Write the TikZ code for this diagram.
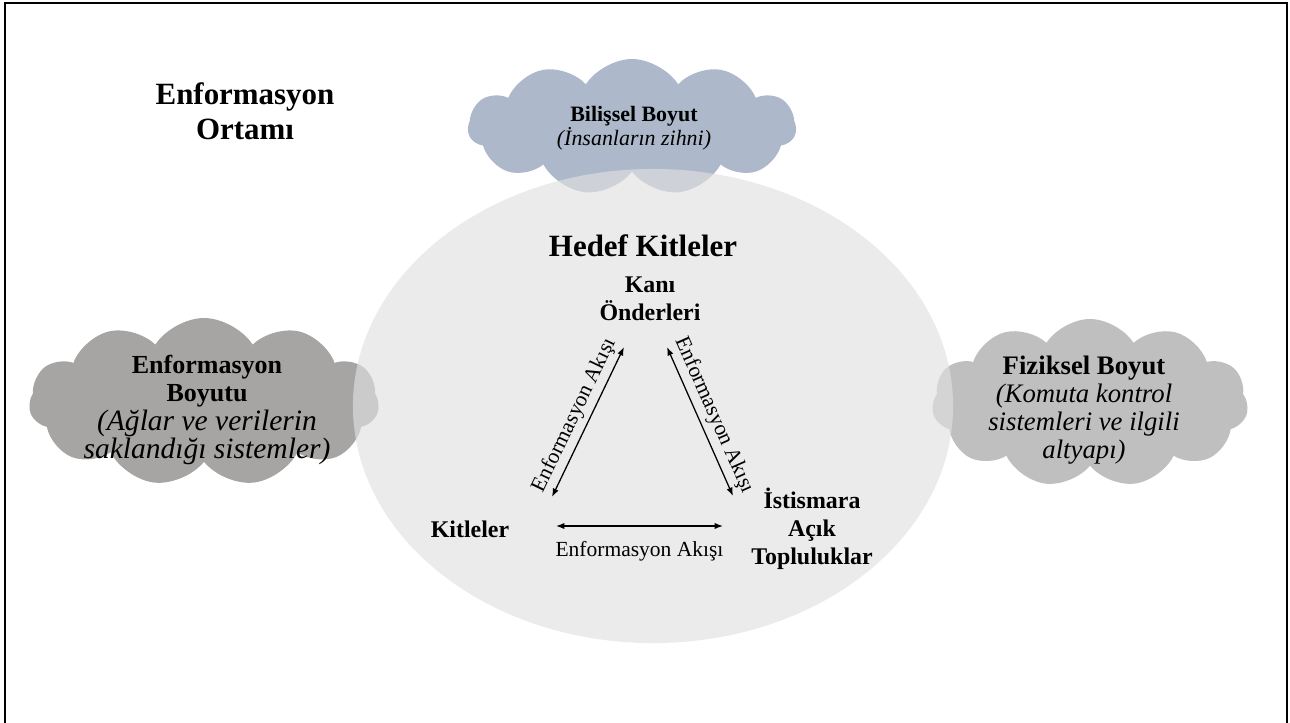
\documentclass[tikz,border=0pt]{standalone}
\usepackage{fontspec}
\setmainfont{Liberation Serif}
\usetikzlibrary{shapes.symbols, shapes.geometric, arrows.meta, positioning}

\definecolor{mindblue}{HTML}{ADB9CA}
\definecolor{netgray}{HTML}{A7A4A4}
\definecolor{physgray}{HTML}{BFBFBF}
\definecolor{audgray}{HTML}{E0E0E0}

\tikzstyle{dimension}=[
cloud,
cloud puffs=11,
cloud puff arc=115,
cloud ignores aspect,
inner sep=0pt,
]
\tikzstyle{dimtext}=[align=center, inner sep=0pt]
\tikzstyle{group}=[align=center, inner sep=0pt, font=\bfseries\fontsize{17}{20}\selectfont]
\tikzstyle{flowlabel}=[font=\fontsize{15.3}{18}\selectfont]

\begin{document}
\begin{tikzpicture}
        [x=0.025cm, y=-0.025cm, >={Latex[length=6pt,width=4.5pt]}]
        \useasboundingbox (0,0) rectangle (1290,723);
        \draw[line width=1.8pt] (5,723) -- (5,3) -- (1287,3) -- (1287,723);

        % the three dimensions
        \node[dimension, fill=mindblue, minimum width=8.2cm, minimum height=3.4cm] (bilissel) at (632,127) {};
        \node[dimension, fill=netgray, minimum width=8.75cm, minimum height=4.2cm] (enfboyut) at (204,402) {};
        \node[dimension, fill=physgray, minimum width=7.9cm, minimum height=4.2cm] (fiziksel) at (1090,403) {};

        % target audiences
        \node[ellipse, fill=audgray, fill opacity=0.65, minimum width=15cm, minimum height=11.85cm] (hedef) at (653,406) {};

        \node[dimtext, font=\bfseries\fontsize{22}{25}\selectfont] (ortam) at (245,111) {Enformasyon\\Ortamı};

        \begin{scope}[every node/.style=dimtext]
          \node[font=\fontsize{15.6}{15.6}\selectfont] (bilisseltext) at (634,128)
            {\textbf{Bilişsel Boyut}\\\textit{(İnsanların zihni)}};
          \node[font=\fontsize{18.5}{20}\selectfont] (enfboyuttext) at (207,410)
            {\textbf{Enformasyon}\\\textbf{Boyutu}\\{\fontsize{21}{20}\selectfont\itshape (Ağlar ve verilerin}\\{\fontsize{21}{20}\selectfont\itshape saklandığı sistemler)}};
          \node[font=\fontsize{19}{20}\selectfont] (fizikseltext) at (1084,410)
            {\textbf{Fiziksel Boyut}\\\textit{(Komuta kontrol}\\\textit{sistemleri ve ilgili}\\\textit{altyapı)}};
        \end{scope}

        \node[anchor=base, font=\bfseries\fontsize{22}{25}\selectfont] (hedeftitle) at (643,256) {Hedef Kitleler};
        \node[group] (kani) at (650,299) {Kanı\\Önderleri};
        \node[group, anchor=base] (kitle) at (470,537) {Kitleler};
        \node[group] (istismar) at (812,529) {İstismara\\Açık\\Topluluklar};

        \coordinate (kitleup) at (552,497);
        \coordinate (kanileft) at (624,347);
        \coordinate (kaniright) at (667,347);
        \coordinate (istisup) at (733,496);
        \coordinate (kitleright) at (556,526);
        \coordinate (istisleft) at (723,526);

        \draw[<->, line width=0.9pt] (kitleup) -- node[flowlabel, above, sloped] (flow1) {Enformasyon Akışı} (kanileft);
        \draw[<->, line width=0.9pt] (kaniright) -- node[flowlabel, above, sloped] (flow2) {Enformasyon Akışı} (istisup);
        \draw[<->, line width=0.9pt] (kitleright) -- node[flowlabel, below=0.25cm] (flow3) {Enformasyon Akışı} (istisleft);
      \end{tikzpicture}
\end{document}
